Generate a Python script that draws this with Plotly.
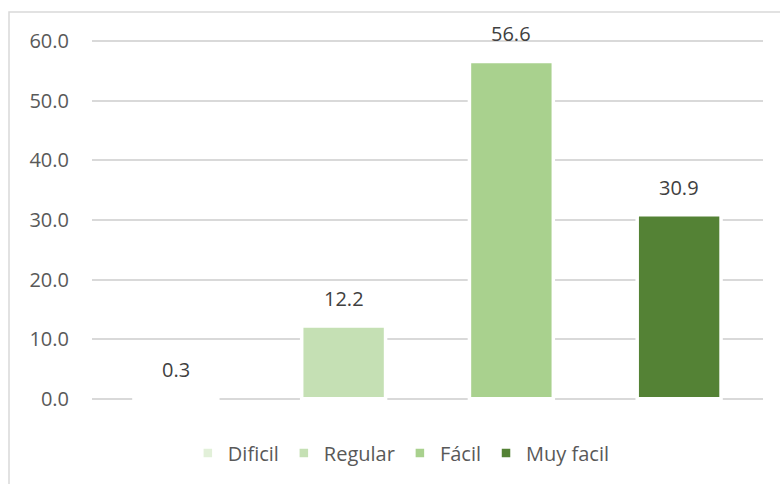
import plotly.graph_objects as go

categories = ["Dificil", "Regular", "Fácil", "Muy facil"]
values = [0.3, 12.2, 56.6, 30.9]
colors = ["#E2F0D9", "#C5E0B4", "#A9D18E", "#548235"]
y_ticks = [0, 10, 20, 30, 40, 50, 60]
y_tick_labels = ["0.0", "10.0", "20.0", "30.0", "40.0", "50.0", "60.0"]

FONT = "Open Sans"

fig = go.Figure()
for cat, val, col in zip(categories, values, colors):
    fig.add_trace(go.Bar(
        x=[cat], y=[val], name=cat, width=0.5,
        marker=dict(color=col, line=dict(color="white", width=3.5)),
        hoverinfo="skip",
    ))
    fig.add_annotation(
        x=cat, y=val, text=f"{val:.1f}", showarrow=False,
        yanchor="bottom", yshift=12,
        font=dict(family=FONT, size=20, color="#404040"),
    )

fig.update_layout(
    width=780, height=484,
    margin=dict(l=92, r=17, t=40, b=81),
    paper_bgcolor="white", plot_bgcolor="white",
    barmode="overlay",
    showlegend=True,
    legend=dict(
        orientation="h", x=0.461, xanchor="center", y=-0.147, yanchor="middle",
        font=dict(family=FONT, size=20, color="#595959"),
        itemwidth=30, traceorder="normal",
    ),
    xaxis=dict(
        categoryorder="array", categoryarray=categories,
        showticklabels=False, showgrid=False, zeroline=False, showline=False,
        ticks="",
    ),
    yaxis=dict(
        range=[-0.2, 60.2], tickvals=y_ticks, ticktext=y_tick_labels,
        showgrid=True, gridcolor="#D9D9D9", gridwidth=1.5,
        zeroline=False, showline=False, ticks="",
        ticklabelstandoff=22,
        tickfont=dict(family=FONT, size=20, color="#595959"),
    ),
    shapes=[dict(
        type="rect", xref="paper", yref="paper",
        x0=-0.1237, y0=-0.4, x1=1.2, y1=1.0777,
        line=dict(color="#D9D9D9", width=1.5), fillcolor="rgba(0,0,0,0)",
        layer="below",
    )],
)

fig.write_html("out.html")
